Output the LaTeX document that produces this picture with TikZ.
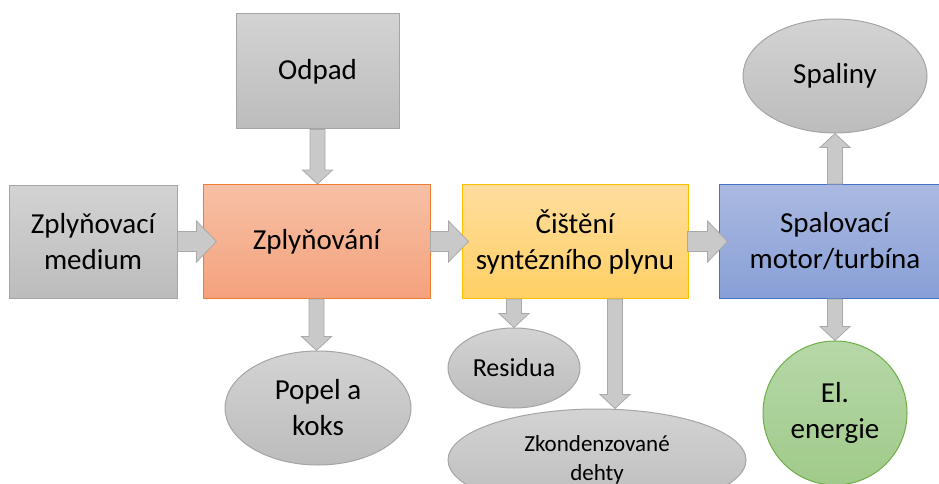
\documentclass[tikz,border=0pt]{standalone}
\usepackage{fontspec}
\setmainfont{Carlito}
\usetikzlibrary{positioning, shapes.geometric, calc}

\definecolor{grayline}{HTML}{A5A5A5}
\definecolor{graytop}{HTML}{D3D3D3}
\definecolor{graybot}{HTML}{BCBCBC}
\definecolor{orgline}{HTML}{ED7D31}
\definecolor{orgtop}{HTML}{F7C0A6}
\definecolor{orgbot}{HTML}{F4A27C}
\definecolor{ylwline}{HTML}{FFC000}
\definecolor{ylwtop}{HTML}{FFDD9E}
\definecolor{ylwbot}{HTML}{FFD064}
\definecolor{bluline}{HTML}{4472C4}
\definecolor{blutop}{HTML}{AAB9E1}
\definecolor{blubot}{HTML}{889FD6}
\definecolor{grnline}{HTML}{70AD47}
\definecolor{grntop}{HTML}{B6D8A8}
\definecolor{grnbot}{HTML}{A0CA8A}
\definecolor{arrfill}{HTML}{C9C9C9}
\definecolor{arrline}{HTML}{A9A9A9}

\tikzset{
  blk/.style={line width=1pt, align=center, inner sep=0pt, text=black,
    font=\fontsize{29}{36}\selectfont},
  graybox/.style={blk, rectangle, draw=grayline, top color=graytop, bottom color=graybot},
  grayell/.style={blk, ellipse, draw=grayline, top color=graytop, bottom color=graybot},
  fat/.style n args={3}{draw=arrline, fill=arrfill, line width=0.8pt,
    to path={let \p1=(\tikztostart), \p2=(\tikztotarget),
      \n1={atan2(\y2-\y1,\x2-\x1)}, \n2={veclen(\x2-\x1,\y2-\y1)}, \n3={\n2-#3} in
      ([shift={(\p1)},rotate=\n1]0,#1) -- ([shift={(\p1)},rotate=\n1]\n3,#1)
      -- ([shift={(\p1)},rotate=\n1]\n3,#2) -- ([shift={(\p1)},rotate=\n1]\n2,0)
      -- ([shift={(\p1)},rotate=\n1]\n3,-#2) -- ([shift={(\p1)},rotate=\n1]\n3,-#1)
      -- ([shift={(\p1)},rotate=\n1]0,-#1) -- cycle}},
  bigarrow/.style={fat={10}{20.5}{20}},
  smallarrow/.style={fat={7.5}{15}{14}}
}

\begin{document}
\begin{tikzpicture}[x=1pt, y=-1pt, on grid]
\useasboundingbox (0,0) rectangle (939,484);
\node[graybox, minimum width=168, minimum height=113] (medium) at (93,241.5) {Zplyňovací\\medium};
\node[blk, rectangle, draw=orgline, top color=orgtop, bottom color=orgbot, minimum width=227, minimum height=114] (zply) [right=223.5pt of medium] {Zplyňování};
\node[blk, rectangle, draw=ylwline, top color=ylwtop, bottom color=ylwbot, minimum width=226, minimum height=114] (cisteni) [right=258.5pt of zply] {Čištění\\syntézního plynu};
\node[blk, rectangle, draw=bluline, top color=blutop, bottom color=blubot, minimum width=232, minimum height=114] (spal) [right=260pt of cisteni] {Spalovací\\motor/turbína};
\node[graybox, minimum width=163, minimum height=115] (odpad) [above=170pt of zply, xshift=1pt] {Odpad};
\node[grayell, minimum width=186, minimum height=114] (popel) [below=166.5pt of zply, xshift=1.5pt] {Popel a\\koks};
\node[grayell, minimum width=132, minimum height=80, font=\fontsize{26}{32}\selectfont] (residua) at (514,368) {Residua};
\node[grayell, minimum width=298, minimum height=102, font=\fontsize{23}{29}\selectfont] (dehty) at (597,460) {Zkondenzované\\dehty};
\node[grayell, minimum width=184, minimum height=114] (spaliny) [above=165.5pt of spal] {Spaliny};
\node[blk, circle, draw=grnline, top color=grntop, bottom color=grnbot, minimum size=144] (energie) [below=171.5pt of spal] {El.\\energie};

\path[bigarrow] (medium.east) to ([xshift=14pt]zply.west);
\path[bigarrow] (zply.east) to ([xshift=7pt]cisteni.west);
\path[bigarrow] ([xshift=-1pt]cisteni.east) to ([xshift=9pt]spal.west);
\path[smallarrow] (odpad.south) to (odpad.south |- zply.north);
\path[smallarrow] (zply.south) to (zply.south |- popel.north);
\path[smallarrow] (residua.north |- cisteni.south) to (residua.north);
\path[smallarrow] ([xshift=40pt]cisteni.south) to ([xshift=40pt]cisteni.south |- dehty.north);
\path[smallarrow] (spal.north) to (spal.north |- spaliny.south);
\path[smallarrow] (spal.south) to (spal.south |- energie.north);
\end{tikzpicture}
\end{document}
